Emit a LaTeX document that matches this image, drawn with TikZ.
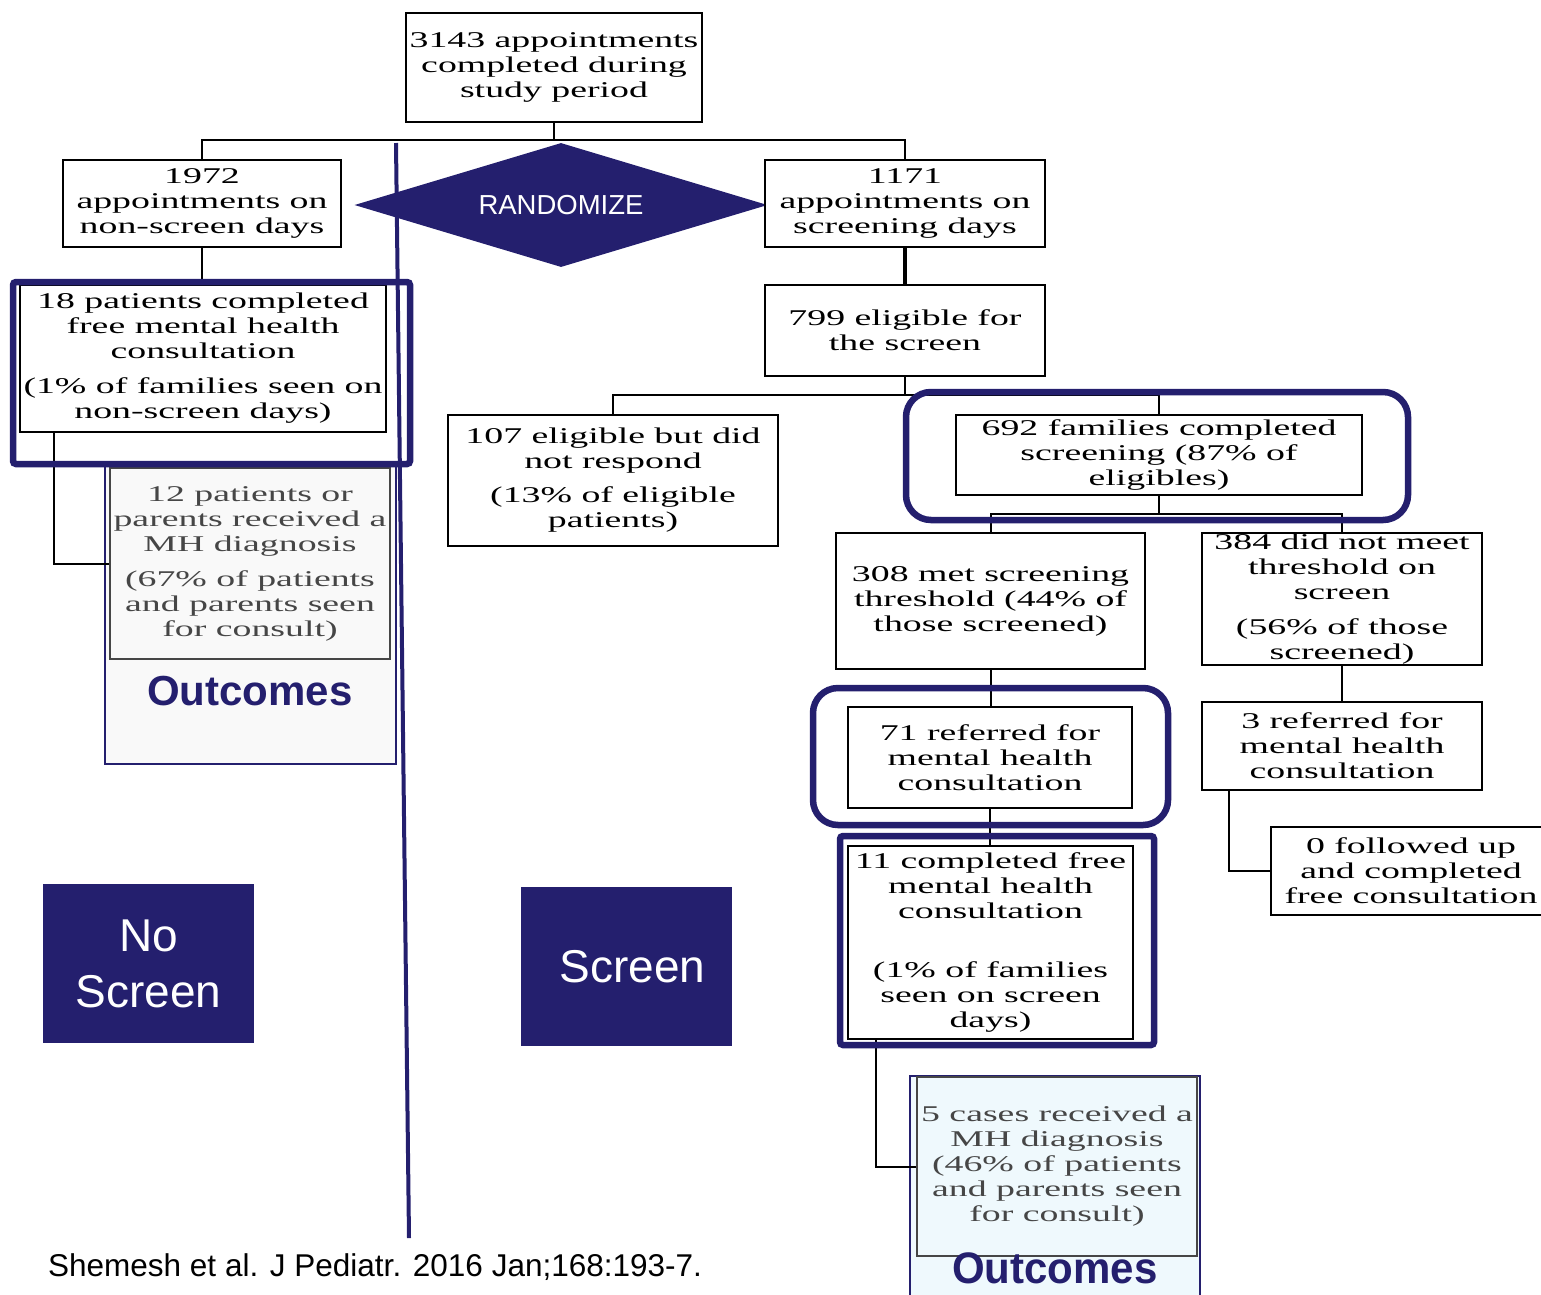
\documentclass[tikz,border=0pt]{standalone}
\usepackage{fontspec}
\setmainfont{Liberation Serif}
\newfontfamily\boxfont[FakeStretch=1.68]{Liberation Serif}
\newfontfamily\labelfont{Liberation Sans}
\usetikzlibrary{shapes.geometric}

\definecolor{navy}{RGB}{36,31,110}
\definecolor{paleGray}{RGB}{249,249,249}
\definecolor{paleBlue}{RGB}{239,249,253}
\definecolor{outGray}{RGB}{70,70,70}

\tikzset{
  box/.style={draw=black, line width=2pt, inner sep=0pt, align=center, fill=white,
    font=\boxfont\fontsize{22.5}{25}\selectfont},
  graybox/.style={box, draw=outGray, text=outGray},
  link/.style={draw=black, line width=2pt},
  hilite/.style={draw=navy, line width=6.5pt},
  outframe/.style={draw=navy, line width=1.5pt},
  tag/.style={fill=navy, text=white, inner sep=0pt, align=center,
    font=\labelfont\fontsize{46}{56}\selectfont},
  outlabel/.style={text=navy, inner sep=0pt, font=\labelfont\bfseries\fontsize{42}{46}\selectfont}
}

\begin{document}
\begin{tikzpicture}[x=1pt, y=-1pt]
\useasboundingbox (0,0) rectangle (1541,1294);

% outcome panels (drawn first, behind)
\draw[outframe, fill=paleGray] (105,464) rectangle (396,764);
\draw[outframe, fill=paleBlue] (910,1076) rectangle (1200,1300);

% randomization diamond
\node[diamond, aspect=3.33, fill=navy, minimum width=413pt, minimum height=124pt, inner sep=0pt,
      text=white, font=\labelfont\fontsize{27.5}{30}\selectfont] (rand) at (561,205) {RANDOMIZE};

% boxes
\node[box, minimum width=296pt, minimum height=109pt] (top) at (554,67.5)
  {3143 appointments\\completed during\\study period};
\node[box, minimum width=278pt, minimum height=87pt] (nonscr) at (202,203.5)
  {1972\\appointments on\\non-screen days};
\node[box, minimum width=280pt, minimum height=87pt] (scr) at (905,203.5)
  {1171\\appointments on\\screening days};
\node[box, minimum width=366pt, minimum height=147pt] (cons18) at (203,358.5)
  {18 patients completed\\free mental health\\consultation\\[10pt](1\% of families seen on\\non-screen days)};
\node[graybox, fill=paleGray, minimum width=280pt, minimum height=191pt] (diag12) at (250,563.5)
  {12 patients or\\parents received a\\MH diagnosis\\[10pt](67\% of patients\\and parents seen\\for consult)};
\node[box, minimum width=280pt, minimum height=91pt] (elig) at (905,330.5)
  {799 eligible for\\the screen};
\node[box, minimum width=330pt, minimum height=131pt] (norsp) at (613,480.5)
  {107 eligible but did\\not respond\\[9pt](13\% of eligible\\patients)};
\node[box, minimum width=406pt, minimum height=80pt] (fam) at (1159,455)
  {692 families completed\\screening (87\% of\\eligibles)};
\node[box, minimum width=309pt, minimum height=136pt] (met) at (990.5,601)
  {308 met screening\\threshold (44\% of\\those screened)};
\node[box, minimum width=280pt, minimum height=132pt] (notmet) at (1342,599)
  {384 did not meet\\threshold on\\screen\\[10pt](56\% of those\\screened)};
\node[box, minimum width=284pt, minimum height=101pt] (ref71) at (990,757.5)
  {71 referred for\\mental health\\consultation};
\node[box, minimum width=280pt, minimum height=88pt] (ref3) at (1342,746)
  {3 referred for\\mental health\\consultation};
\node[box, minimum width=285pt, minimum height=193pt] (done11) at (990.5,942.5)
  {11 completed free\\mental health\\consultation\\[34pt](1\% of families\\seen on screen\\days)};
\node[box, minimum width=280pt, minimum height=88pt] (zero) at (1411,871)
  {0 followed up\\and completed\\free consultation};
\node[graybox, fill=paleBlue, minimum width=280pt, minimum height=179pt] (diag5) at (1057,1166.5)
  {5 cases received a\\MH diagnosis\\(46\% of patients\\and parents seen\\for consult)};

% outcome labels
\node[outlabel] (outL) at (250,691) {Outcomes};
\node[outlabel, anchor=base, yscale=1.05] (outR) at (1055,1283) {Outcomes};

% connectors
\coordinate (split1) at (554,140);
\draw[link] (top.south) -- (split1);
\draw[link] (nonscr.north) |- (split1) -| (scr.north);
\draw[link] (nonscr.south) -- (nonscr.south |- cons18.north);
\draw[link] ([xshift=35pt]cons18.south west) |- (diag12.west);
\draw[link, line width=4pt] (scr.south) -- (elig.north);
\coordinate (split2) at (905,395);
\draw[link] (elig.south) -- (split2);
\draw[link] (norsp.north) |- (split2) -| (fam.north);
\coordinate (split3) at (1159,514);
\draw[link] (fam.south) -- (split3);
\draw[link] (met.north) |- (split3) -| (notmet.north);
\draw[link] (met.south) -- (met.south |- ref71.north);
\draw[link] (ref71.south) -- (ref71.south |- done11.north);
\draw[link] ([xshift=29pt]done11.south west) |- (diag5.west);
\draw[link] (notmet.south) -- (ref3.north);
\draw[link] ([xshift=28pt]ref3.south west) |- (zero.west);

% highlight frames
\draw[hilite, rounded corners=3pt] (13,282) rectangle (410,464);
\draw[hilite, rounded corners=25pt] (906,392) rectangle (1408,520);
\draw[hilite, rounded corners=25pt] (813,688) rectangle (1168,825);
\draw[hilite, rounded corners=3pt] (840,836) rectangle (1154,1045);

% arm divider
\coordinate (divTop) at (396,143);
\coordinate (divBot) at (409,1238);
\draw[navy, line width=4pt] (divTop) -- (divBot);

% arm tags
\node[tag, minimum width=211pt, minimum height=159pt] (noscr) at (148.5,963.5) {No\\Screen};
\node[tag, minimum width=211pt, minimum height=159pt] (yesscr) at (626.5,966.5) {\hspace{12pt}Screen};

% citation
\node[anchor=west, inner sep=0pt, font=\labelfont\fontsize{31.5}{34}\selectfont] (cite) at (48,1267)
  {Shemesh et al. J Pediatr. 2016 Jan;168:193-7.};
\end{tikzpicture}
\end{document}
